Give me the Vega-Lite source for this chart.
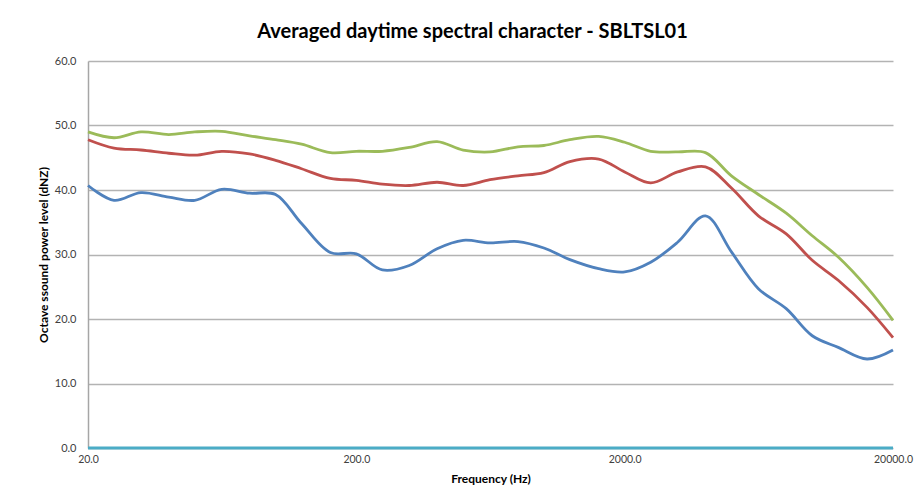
{
  "$schema": "https://vega.github.io/schema/vega-lite/v6.json",
  "width": 805,
  "height": 387,
  "autosize": {"type": "none"},
  "padding": {"left": 88, "top": 61, "right": 30, "bottom": 55},
  "background": "white",
  "title": {
    "text": "Averaged daytime spectral character - SBLTSL01",
    "font": "Lato",
    "fontSize": 20,
    "fontWeight": "bold",
    "color": "#000000",
    "anchor": "middle",
    "dx": -18,
    "offset": 13
  },
  "config": {
    "view": {"stroke": null},
    "axis": {"labelFont": "Lato", "titleFont": "Lato", "labelColor": "#404040", "titleColor": "#000000"}
  },
  "datasets": {
    "spectra": [
      {"f": 20, "s": "Series1", "v": 40.7},
      {"f": 25, "s": "Series1", "v": 38.4},
      {"f": 31.5, "s": "Series1", "v": 39.6},
      {"f": 40, "s": "Series1", "v": 38.9},
      {"f": 50, "s": "Series1", "v": 38.4},
      {"f": 63, "s": "Series1", "v": 40.1},
      {"f": 80, "s": "Series1", "v": 39.5},
      {"f": 100, "s": "Series1", "v": 39.3},
      {"f": 125, "s": "Series1", "v": 34.8},
      {"f": 160, "s": "Series1", "v": 30.3},
      {"f": 200, "s": "Series1", "v": 30.1},
      {"f": 250, "s": "Series1", "v": 27.6},
      {"f": 315, "s": "Series1", "v": 28.3},
      {"f": 400, "s": "Series1", "v": 30.9},
      {"f": 500, "s": "Series1", "v": 32.2},
      {"f": 630, "s": "Series1", "v": 31.8},
      {"f": 800, "s": "Series1", "v": 32.0},
      {"f": 1000, "s": "Series1", "v": 31.0},
      {"f": 1250, "s": "Series1", "v": 29.2},
      {"f": 1600, "s": "Series1", "v": 27.8},
      {"f": 2000, "s": "Series1", "v": 27.3},
      {"f": 2500, "s": "Series1", "v": 28.8},
      {"f": 3150, "s": "Series1", "v": 31.9},
      {"f": 4000, "s": "Series1", "v": 36.0},
      {"f": 5000, "s": "Series1", "v": 30.4},
      {"f": 6300, "s": "Series1", "v": 24.7},
      {"f": 8000, "s": "Series1", "v": 21.6},
      {"f": 10000, "s": "Series1", "v": 17.4},
      {"f": 12500, "s": "Series1", "v": 15.6},
      {"f": 16000, "s": "Series1", "v": 13.8},
      {"f": 20000, "s": "Series1", "v": 15.2},
      {"f": 20, "s": "Series2", "v": 47.8},
      {"f": 25, "s": "Series2", "v": 46.5},
      {"f": 31.5, "s": "Series2", "v": 46.2},
      {"f": 40, "s": "Series2", "v": 45.7},
      {"f": 50, "s": "Series2", "v": 45.4},
      {"f": 63, "s": "Series2", "v": 46.0},
      {"f": 80, "s": "Series2", "v": 45.6},
      {"f": 100, "s": "Series2", "v": 44.6},
      {"f": 125, "s": "Series2", "v": 43.3},
      {"f": 160, "s": "Series2", "v": 41.8},
      {"f": 200, "s": "Series2", "v": 41.5},
      {"f": 250, "s": "Series2", "v": 40.9},
      {"f": 315, "s": "Series2", "v": 40.7},
      {"f": 400, "s": "Series2", "v": 41.2},
      {"f": 500, "s": "Series2", "v": 40.7},
      {"f": 630, "s": "Series2", "v": 41.6},
      {"f": 800, "s": "Series2", "v": 42.2},
      {"f": 1000, "s": "Series2", "v": 42.7},
      {"f": 1250, "s": "Series2", "v": 44.4},
      {"f": 1600, "s": "Series2", "v": 44.8},
      {"f": 2000, "s": "Series2", "v": 42.8},
      {"f": 2500, "s": "Series2", "v": 41.1},
      {"f": 3150, "s": "Series2", "v": 42.8},
      {"f": 4000, "s": "Series2", "v": 43.6},
      {"f": 5000, "s": "Series2", "v": 40.3},
      {"f": 6300, "s": "Series2", "v": 36.0},
      {"f": 8000, "s": "Series2", "v": 33.2},
      {"f": 10000, "s": "Series2", "v": 29.1},
      {"f": 12500, "s": "Series2", "v": 26.0},
      {"f": 16000, "s": "Series2", "v": 21.8},
      {"f": 20000, "s": "Series2", "v": 17.1},
      {"f": 20, "s": "Series3", "v": 49.0},
      {"f": 25, "s": "Series3", "v": 48.1},
      {"f": 31.5, "s": "Series3", "v": 49.0},
      {"f": 40, "s": "Series3", "v": 48.6},
      {"f": 50, "s": "Series3", "v": 49.0},
      {"f": 63, "s": "Series3", "v": 49.1},
      {"f": 80, "s": "Series3", "v": 48.4},
      {"f": 100, "s": "Series3", "v": 47.8},
      {"f": 125, "s": "Series3", "v": 47.1},
      {"f": 160, "s": "Series3", "v": 45.8},
      {"f": 200, "s": "Series3", "v": 46.0},
      {"f": 250, "s": "Series3", "v": 46.0},
      {"f": 315, "s": "Series3", "v": 46.6},
      {"f": 400, "s": "Series3", "v": 47.5},
      {"f": 500, "s": "Series3", "v": 46.2},
      {"f": 630, "s": "Series3", "v": 45.9},
      {"f": 800, "s": "Series3", "v": 46.7},
      {"f": 1000, "s": "Series3", "v": 46.9},
      {"f": 1250, "s": "Series3", "v": 47.8},
      {"f": 1600, "s": "Series3", "v": 48.3},
      {"f": 2000, "s": "Series3", "v": 47.4},
      {"f": 2500, "s": "Series3", "v": 46.0},
      {"f": 3150, "s": "Series3", "v": 45.9},
      {"f": 4000, "s": "Series3", "v": 45.8},
      {"f": 5000, "s": "Series3", "v": 42.2},
      {"f": 6300, "s": "Series3", "v": 39.3},
      {"f": 8000, "s": "Series3", "v": 36.4},
      {"f": 10000, "s": "Series3", "v": 32.9},
      {"f": 12500, "s": "Series3", "v": 29.6},
      {"f": 16000, "s": "Series3", "v": 24.9},
      {"f": 20000, "s": "Series3", "v": 19.8},
      {"f": 20, "s": "Series4", "v": 0},
      {"f": 20000, "s": "Series4", "v": 0}
    ]
  },
  "data": {"name": "spectra"},
  "mark": {"type": "line", "interpolate": "catmull-rom", "strokeWidth": 2.8, "clip": false},
  "encoding": {
    "x": {
      "field": "f",
      "type": "quantitative",
      "scale": {"type": "log", "domain": [20, 20000], "nice": false},
      "axis": {
        "values": [20, 200, 2000, 20000],
        "format": ".1f",
        "title": "Frequency (Hz)",
        "titleFontSize": 12,
        "titleFontWeight": "bold",
        "titlePadding": 9,
        "labelFontSize": 10.5,
        "labelPadding": 6,
        "labelFlush": false,
        "labelOverlap": false,
        "ticks": false,
        "domain": false,
        "grid": false
      }
    },
    "y": {
      "field": "v",
      "type": "quantitative",
      "scale": {"domain": [0, 60], "nice": false},
      "axis": {
        "values": [0, 10, 20, 30, 40, 50, 60],
        "format": ".1f",
        "title": "Octave ssound power level (dNZ)",
        "titleFontSize": 12,
        "titleFontWeight": "bold",
        "titlePadding": 4,
        "labelFontSize": 11,
        "labelPadding": 12,
        "ticks": false,
        "domainColor": "#a6a6a6",
        "domainWidth": 1.5,
        "grid": true,
        "gridColor": "#b3b3b3",
        "gridWidth": 1.5
      }
    },
    "color": {
      "field": "s",
      "type": "nominal",
      "scale": {"domain": ["Series1", "Series2", "Series3", "Series4"], "range": ["#4F81BD", "#C0504D", "#9BBB59", "#4BACC6"]},
      "legend": null
    },
    "order": {"field": "f", "type": "quantitative"}
  }
}
